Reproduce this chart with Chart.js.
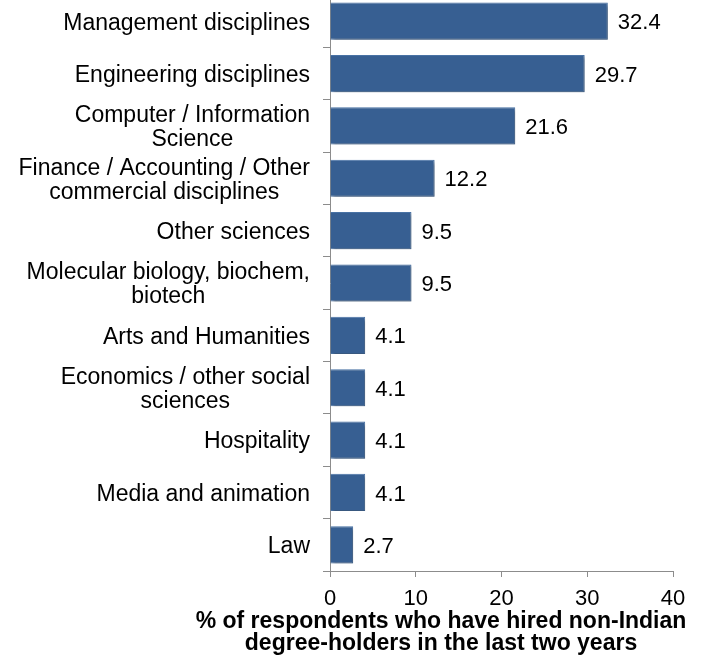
<!DOCTYPE html>
<html>
<head>
<meta charset="utf-8">
<script src="https://cdn.jsdelivr.net/npm/chart.js@4.4.1/dist/chart.umd.min.js"></script>
<style>
  html, body { margin: 0; padding: 0; background: #fff; overflow: hidden; }
  #wrap { position: absolute; left: 0; top: -5px; width: 708px; height: 661px; }
</style>
</head>
<body>
<div id="wrap"><canvas id="grafico-disciplinas"></canvas></div>
<script>
const categorias = [
  'Management disciplines',
  'Engineering disciplines',
  ['Computer / Information', 'Science'],
  ['Finance / Accounting / Other', 'commercial disciplines'],
  'Other sciences',
  ['Molecular biology, biochem,', 'biotech'],
  'Arts and Humanities',
  ['Economics / other social', 'sciences'],
  'Hospitality',
  'Media and animation',
  'Law'
];
const valores = [32.4, 29.7, 21.6, 12.2, 9.5, 9.5, 4.1, 4.1, 4.1, 4.1, 2.7];
const ticksX = [0, 10, 20, 30, 40];
const tituloX = ['% of respondents who have hired non-Indian', 'degree-holders in the last two years'];

const fonte = '"Liberation Sans", Arial, sans-serif';
const cinza = '#8c8c8c';

// Sombra leve por baixo das barras
const sombraBarras = {
  id: 'sombraBarras',
  beforeDatasetsDraw(chart) {
    const ctx = chart.ctx;
    ctx.save();
    ctx.shadowColor = 'rgba(0, 0, 0, 0.35)';
    ctx.shadowBlur = 3;
    ctx.shadowOffsetX = 2;
    ctx.shadowOffsetY = 2;
  },
  afterDatasetsDraw(chart) {
    chart.ctx.restore();
  }
};

// Rótulos das categorias (linhas centradas, bloco alinhado à direita)
const rotulosY = {
  id: 'rotulosY',
  afterDraw(chart) {
    const ctx = chart.ctx;
    const y = chart.scales.y;
    const direita = y.right - 20;
    ctx.save();
    ctx.font = '23px ' + fonte;
    ctx.fillStyle = '#000';
    ctx.textAlign = 'center';
    ctx.textBaseline = 'middle';
    categorias.forEach((cat, i) => {
      const linhas = Array.isArray(cat) ? cat : [cat];
      const largura = Math.max(...linhas.map(l => ctx.measureText(l).width));
      const cx = direita - largura / 2;
      const cy = y.getPixelForValue(i) + 2;
      linhas.forEach((l, k) => {
        ctx.fillText(l, cx, cy + (k - (linhas.length - 1) / 2) * 24);
      });
    });
    ctx.restore();
  }
};

// Valores no fim de cada barra
const valoresBarras = {
  id: 'valoresBarras',
  afterDatasetsDraw(chart) {
    const ctx = chart.ctx;
    ctx.save();
    ctx.font = '22px ' + fonte;
    ctx.fillStyle = '#000';
    ctx.textAlign = 'left';
    ctx.textBaseline = 'middle';
    chart.getDatasetMeta(0).data.forEach((bar, i) => {
      ctx.fillText(valores[i].toFixed(1), bar.x + 10, bar.y + 2);
    });
    ctx.restore();
  }
};

// Título do eixo X em duas linhas
const tituloEixoX = {
  id: 'tituloEixoX',
  afterDraw(chart) {
    const ctx = chart.ctx;
    const base = chart.scales.x.bottom;
    ctx.save();
    ctx.font = 'bold 23px ' + fonte;
    ctx.fillStyle = '#000';
    ctx.textAlign = 'center';
    ctx.textBaseline = 'alphabetic';
    tituloX.forEach((t, k) => {
      ctx.fillText(t, 441, base - 28 + k * 22);
    });
    ctx.restore();
  }
};

new Chart(document.getElementById('grafico-disciplinas'), {
  type: 'bar',
  data: {
    labels: categorias,
    datasets: [{
      data: valores,
      backgroundColor: '#375f92',
      borderColor: '#4a73a6',
      borderWidth: 1,
      barPercentage: 0.71,
      categoryPercentage: 1
    }]
  },
  options: {
    indexAxis: 'y',
    responsive: true,
    maintainAspectRatio: false,
    animation: false,
    layout: { padding: { top: 0, right: 35, bottom: 0, left: 0 } },
    plugins: {
      legend: { display: false },
      tooltip: { enabled: false }
    },
    scales: {
      x: {
        min: ticksX[0],
        max: ticksX[ticksX.length - 1],
        ticks: {
          stepSize: ticksX[1] - ticksX[0],
          color: '#000',
          padding: 9,
          font: { family: fonte, size: 22 }
        },
        grid: { drawOnChartArea: false, tickLength: 6, color: cinza },
        border: { color: cinza },
        afterFit(scale) { scale.height = 85; }
      },
      y: {
        ticks: { display: false },
        grid: { drawOnChartArea: false, tickLength: 7, color: cinza, offset: true },
        border: { color: cinza },
        afterFit(scale) { scale.width = 330; }
      }
    }
  },
  plugins: [sombraBarras, valoresBarras, rotulosY, tituloEixoX]
});
</script>
</body>
</html>
